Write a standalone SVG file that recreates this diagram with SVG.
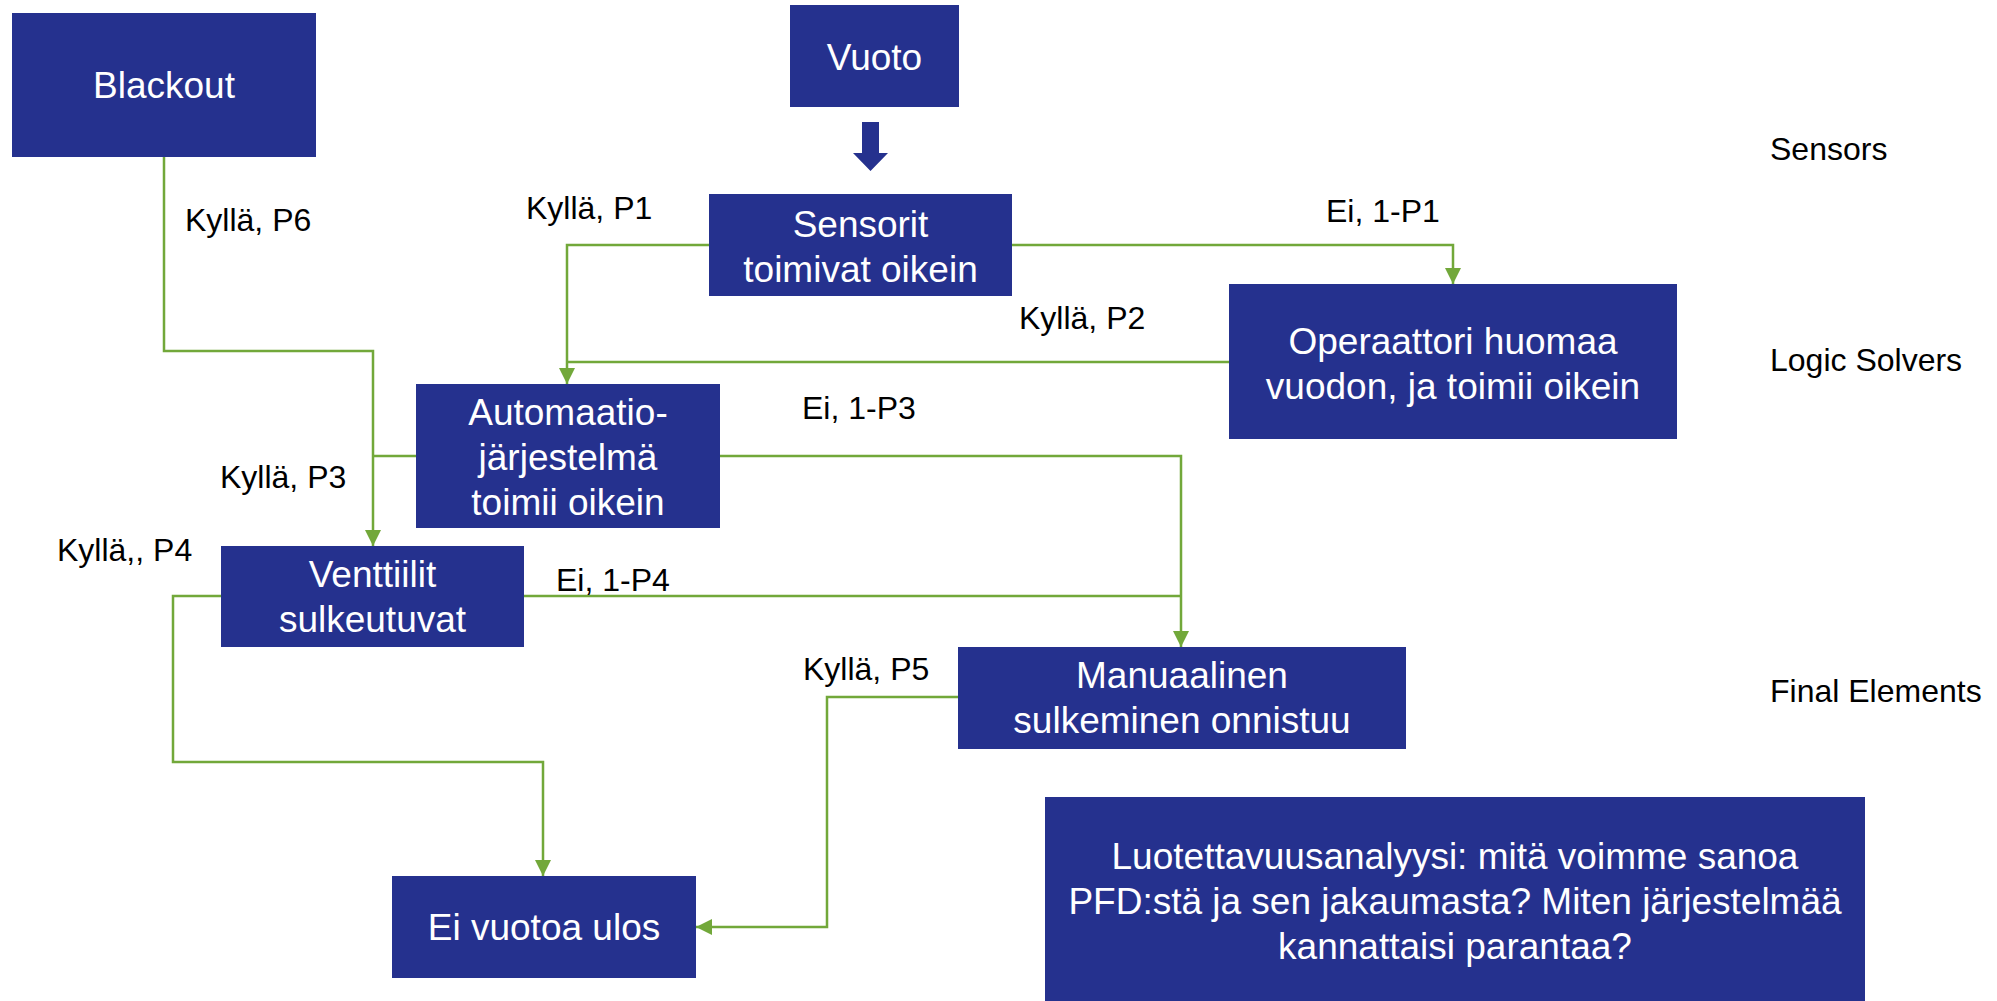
<svg xmlns="http://www.w3.org/2000/svg" width="1997" height="1001" viewBox="0 0 1997 1001">
  <style>
    .box { fill: #25318E; }
    .bt { font-family: "Liberation Sans", Arial, sans-serif; font-size: 37px; fill: #ffffff; text-anchor: middle; }
    .lbl { font-family: "Liberation Sans", Arial, sans-serif; font-size: 32px; fill: #000000; }
    .wire { fill: none; stroke: #72A83A; stroke-width: 2.5; stroke-linejoin: miter; }
  </style>
  <defs>
    <marker id="arr" viewBox="0 0 16 16" refX="16" refY="8" markerWidth="16" markerHeight="16" markerUnits="userSpaceOnUse" orient="auto">
      <path d="M0,0 L16,8 L0,16 Z" fill="#72A83A"/>
    </marker>
  </defs>
  <rect width="1997" height="1001" fill="#ffffff"/>

  <!-- connectors -->
  <g id="connectors">
    <path class="wire" d="M164,157 V351 H373 V546" marker-end="url(#arr)"/>
    <path class="wire" d="M709,245 H567 V384" marker-end="url(#arr)"/>
    <path class="wire" d="M1012,245 H1453 V284" marker-end="url(#arr)"/>
    <path class="wire" d="M1229,362 H567"/>
    <path class="wire" d="M416,456 H373"/>
    <path class="wire" d="M720,456 H1181 V647" marker-end="url(#arr)"/>
    <path class="wire" d="M524,596 H1181"/>
    <path class="wire" d="M221,596 H173 V762 H543 V876" marker-end="url(#arr)"/>
    <path class="wire" d="M958,697 H827 V927 H696" marker-end="url(#arr)"/>
    <!-- block arrow under the leak node -->
    <path d="M862,122 H879 V153 H888 L870.5,171 L853,153 H862 Z" fill="#25318E"/>
  </g>

  <!-- edge labels -->
  <g id="edge-labels" class="lbl">
    <text x="185" y="231">Kyllä, P6</text>
    <text x="526" y="219">Kyllä, P1</text>
    <text x="1326" y="222">Ei, 1-P1</text>
    <text x="1019" y="329">Kyllä, P2</text>
    <text x="802" y="419">Ei, 1-P3</text>
    <text x="220" y="488">Kyllä, P3</text>
    <text x="57" y="561">Kyllä,, P4</text>
    <text x="556" y="591">Ei, 1-P4</text>
    <text x="803" y="680">Kyllä, P5</text>
  </g>

  <!-- layer labels -->
  <g id="layer-labels" class="lbl">
    <text x="1770" y="160">Sensors</text>
    <text x="1770" y="371">Logic Solvers</text>
    <text x="1770" y="702">Final Elements</text>
  </g>

  <g id="blackout">
    <rect class="box" x="12" y="13" width="304" height="144"/>
    <text class="bt" x="164" y="98">Blackout</text>
  </g>
  <g id="vuoto">
    <rect class="box" x="790" y="5" width="169" height="102"/>
    <text class="bt" x="874.5" y="70">Vuoto</text>
  </g>
  <g id="sensorit">
    <rect class="box" x="709" y="194" width="303" height="102"/>
    <text class="bt" x="860.5" y="237">Sensorit</text>
    <text class="bt" x="860.5" y="282">toimivat oikein</text>
  </g>
  <g id="operaattori">
    <rect class="box" x="1229" y="284" width="448" height="155"/>
    <text class="bt" x="1453" y="354">Operaattori huomaa</text>
    <text class="bt" x="1453" y="399">vuodon, ja toimii oikein</text>
  </g>
  <g id="automaatio">
    <rect class="box" x="416" y="384" width="304" height="144"/>
    <text class="bt" x="568" y="425">Automaatio-</text>
    <text class="bt" x="568" y="470">järjestelmä</text>
    <text class="bt" x="568" y="515">toimii oikein</text>
  </g>
  <g id="venttiilit">
    <rect class="box" x="221" y="546" width="303" height="101"/>
    <text class="bt" x="372.5" y="587">Venttiilit</text>
    <text class="bt" x="372.5" y="632">sulkeutuvat</text>
  </g>
  <g id="manuaalinen">
    <rect class="box" x="958" y="647" width="448" height="102"/>
    <text class="bt" x="1182" y="688">Manuaalinen</text>
    <text class="bt" x="1182" y="733">sulkeminen onnistuu</text>
  </g>
  <g id="ei-vuotoa">
    <rect class="box" x="392" y="876" width="304" height="102"/>
    <text class="bt" x="544" y="940">Ei vuotoa ulos</text>
  </g>
  <g id="luotettavuus">
    <rect class="box" x="1045" y="797" width="820" height="204"/>
    <text class="bt" x="1455" y="869">Luotettavuusanalyysi: mitä voimme sanoa</text>
    <text class="bt" x="1455" y="914">PFD:stä ja sen jakaumasta? Miten järjestelmää</text>
    <text class="bt" x="1455" y="959">kannattaisi parantaa?</text>
  </g>
</svg>
